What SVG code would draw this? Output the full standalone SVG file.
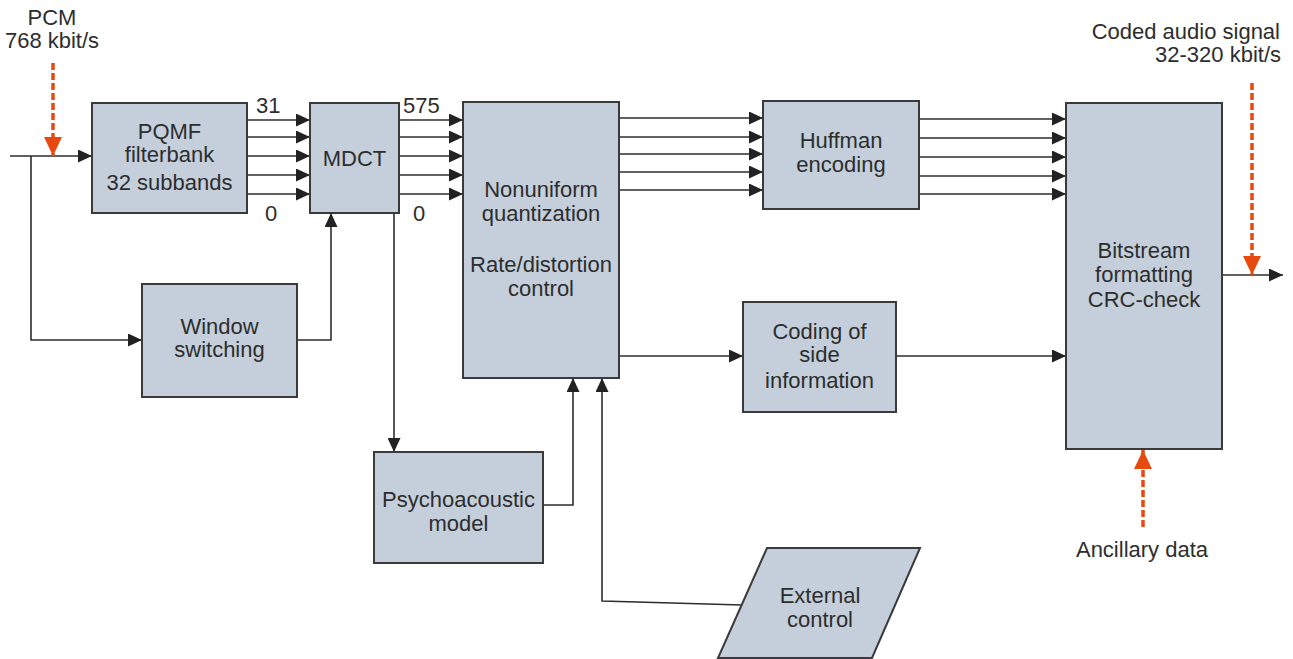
<svg xmlns="http://www.w3.org/2000/svg" width="1293" height="659" viewBox="0 0 1293 659">
<style>
.box{fill:#c4cfdb;stroke:#3a3a3a;stroke-width:2}
.t{font-family:"Liberation Sans",Arial,sans-serif;font-size:22px;fill:#2d2d2d;text-anchor:middle}
.l{font-family:"Liberation Sans",Arial,sans-serif;font-size:22px;fill:#2d2d2d}
.c{fill:none;stroke:#2d2d2d;stroke-width:1.6;marker-end:url(#ah)}
.cn{fill:none;stroke:#2d2d2d;stroke-width:1.6}
.o{fill:none;stroke:#e64a0e;stroke-width:3.5;stroke-dasharray:7 3;marker-end:url(#oh)}
</style>
<defs>
<marker id="ah" markerUnits="userSpaceOnUse" markerWidth="14" markerHeight="13" refX="14" refY="6.5" orient="auto"><path d="M0,0 L14,6.5 L0,13 z" fill="#222"/></marker>
<marker id="oh" markerUnits="userSpaceOnUse" markerWidth="19" markerHeight="18" refX="19" refY="9" orient="auto"><path d="M0,0 L19,9 L0,18 z" fill="#e64a0e"/></marker>
</defs>
<g id="connectors">
<path class="c" d="M10,156 H92"/>
<path class="c" d="M31,156 V340 H142"/>
<path class="c" d="M297,340 H331 V213"/>
<path class="c" d="M247,120 H310"/>
<path class="c" d="M247,137 H310"/>
<path class="c" d="M247,156 H310"/>
<path class="c" d="M247,175 H310"/>
<path class="c" d="M247,194 H310"/>
<path class="c" d="M399,120 H463"/>
<path class="c" d="M399,137 H463"/>
<path class="c" d="M399,156 H463"/>
<path class="c" d="M399,175 H463"/>
<path class="c" d="M399,194 H463"/>
<path class="c" d="M394,213 V452"/>
<path class="c" d="M543,505 H573 V378"/>
<path class="c" d="M742,605 L602,601 V378"/>
<path class="c" d="M619,118 H763"/>
<path class="c" d="M619,137 H763"/>
<path class="c" d="M619,154 H763"/>
<path class="c" d="M619,172 H763"/>
<path class="c" d="M619,190 H763"/>
<path class="c" d="M919,119 H1066"/>
<path class="c" d="M919,138 H1066"/>
<path class="c" d="M919,157 H1066"/>
<path class="c" d="M919,176 H1066"/>
<path class="c" d="M919,194 H1066"/>
<path class="c" d="M619,356 H743"/>
<path class="c" d="M896,356 H1066"/>
<path class="c" d="M1222,275 H1283"/>
<path class="o" d="M53,63 V156"/>
<path class="o" d="M1252,83 V275"/>
<path class="o" d="M1143,527 V450"/>
</g>
<g id="labels">
<text class="t" x="52" y="25">PCM</text>
<text class="t" x="52" y="48">768 kbit/s</text>
<text class="l" x="1280" y="39" text-anchor="end">Coded audio signal</text>
<text class="l" x="1281" y="62" text-anchor="end">32-320 kbit/s</text>
<text class="l" x="256" y="113">31</text>
<text class="l" x="265" y="221">0</text>
<text class="l" x="403" y="113">575</text>
<text class="l" x="413" y="221">0</text>
<text class="t" x="1142" y="557">Ancillary data</text>
</g>
<g id="pqmf"><rect class="box" x="92" y="103" width="155" height="110"/>
<text class="t" x="169.5" y="139">PQMF</text><text class="t" x="169.5" y="162">filterbank</text><text class="t" x="169.5" y="190">32 subbands</text></g>
<g id="mdct"><rect class="box" x="310" y="103" width="89" height="110"/>
<text class="t" x="354.5" y="166">MDCT</text></g>
<g id="quant"><rect class="box" x="463" y="102" width="156" height="276"/>
<text class="t" x="541" y="197">Nonuniform</text><text class="t" x="541" y="221">quantization</text><text class="t" x="541" y="272">Rate/distortion</text><text class="t" x="541" y="296">control</text></g>
<g id="huffman"><rect class="box" x="763" y="101" width="156" height="108"/>
<text class="t" x="841" y="148">Huffman</text><text class="t" x="841" y="172">encoding</text></g>
<g id="bitstream"><rect class="box" x="1066" y="103" width="156" height="346"/>
<text class="t" x="1144" y="258">Bitstream</text><text class="t" x="1144" y="282">formatting</text><text class="t" x="1144" y="307">CRC-check</text></g>
<g id="window"><rect class="box" x="142" y="284" width="155" height="113"/>
<text class="t" x="219.5" y="334">Window</text><text class="t" x="219.5" y="357">switching</text></g>
<g id="side"><rect class="box" x="743" y="302" width="153" height="110"/>
<text class="t" x="819.5" y="339">Coding of</text><text class="t" x="819.5" y="362">side</text><text class="t" x="819.5" y="388">information</text></g>
<g id="psycho"><rect class="box" x="374" y="452" width="169" height="111"/>
<text class="t" x="458.5" y="507">Psychoacoustic</text><text class="t" x="458.5" y="531">model</text></g>
<g id="external"><polygon class="box" points="767,548 920,548 872,658 718,658"/>
<text class="t" x="820" y="603">External</text><text class="t" x="820" y="627">control</text></g>
</svg>
